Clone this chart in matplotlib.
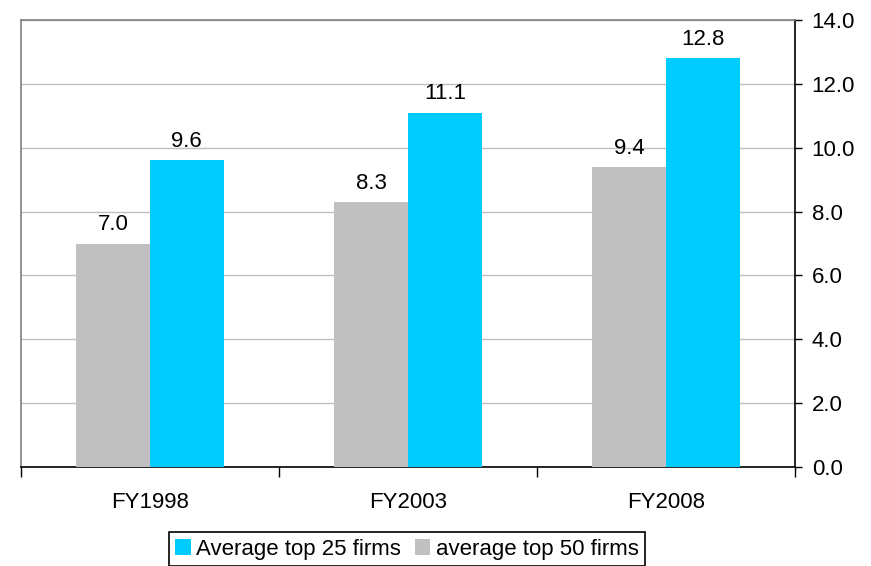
import matplotlib.pyplot as plt
import numpy as np

plt.rcParams['font.family'] = ['Liberation Sans', 'DejaVu Sans']

years = ['FY1998', 'FY2003', 'FY2008']
top25 = [9.6, 11.1, 12.8]
top50 = [7.0, 8.3, 9.4]
yticks = [0, 2, 4, 6, 8, 10, 12, 14]

blue = '#00CCFF'
grey = '#C0C0C0'
fs = 16

fig = plt.figure(figsize=(8.71, 5.66), dpi=100)
ax = fig.add_axes([21 / 871, (566 - 467) / 566, (795 - 21) / 871, (467 - 20) / 566])

x = np.arange(len(years))
w = 1 / 3.5  # gap width 150%

b50 = ax.bar(x - w / 2, top50, w, color=grey, label='average top 50 firms', zorder=3)
b25 = ax.bar(x + w / 2, top25, w, color=blue, label='Average top 25 firms', zorder=3)

for bars, vals in ((b50, top50), (b25, top25)):
    for rect, v in zip(bars, vals):
        ax.annotate(f'{v:.1f}', (rect.get_x() + rect.get_width() / 2, v),
                    xytext=(0, 6), textcoords='offset points',
                    ha='center', va='bottom', fontsize=fs)

ax.set_xlim(-0.5, 2.5)
ax.set_ylim(0, 14)

# y axis on the right side
ax.yaxis.tick_right()
ax.set_yticks(yticks)
ax.set_yticklabels([f'{t:.1f}' for t in yticks], fontsize=fs)
ax.tick_params(axis='y', direction='out', length=5, width=1, pad=7, colors='black')
ax.grid(axis='y', color='#C0C0C0', linewidth=1, zorder=0)

# category boundaries as major ticks, names on minor ticks
ax.set_xticks([-0.5, 0.5, 1.5, 2.5])
ax.set_xticklabels([])
ax.set_xticks(x, minor=True)
ax.set_xticklabels(years, minor=True, fontsize=fs)
ax.tick_params(axis='x', which='major', direction='out', length=7, width=1)
ax.tick_params(axis='x', which='minor', length=0, pad=18)

for side in ('top', 'left'):
    ax.spines[side].set_color('#808080')
    ax.spines[side].set_linewidth(1.2)
for side in ('bottom', 'right'):
    ax.spines[side].set_color('black')
    ax.spines[side].set_linewidth(1.2)

leg = fig.legend(handles=[b25, b50], labels=['Average top 25 firms', 'average top 50 firms'],
                 loc='upper center', bbox_to_anchor=(407 / 871, 1 - 532 / 566), ncol=2,
                 fontsize=fs, handlelength=0.7, handleheight=0.7, handletextpad=0.25,
                 columnspacing=0.6, borderpad=0.3, borderaxespad=0, fancybox=False,
                 edgecolor='black', framealpha=1)
leg.get_frame().set_linewidth(1.2)

fig.savefig('out.png', dpi=100)
